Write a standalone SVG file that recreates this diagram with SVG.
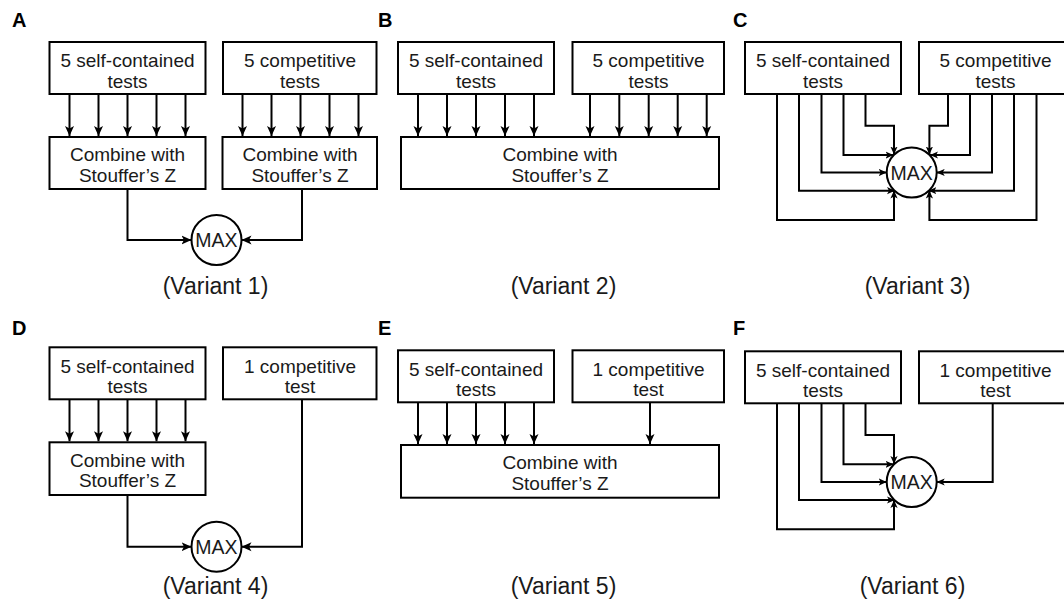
<svg xmlns="http://www.w3.org/2000/svg" width="1064" height="603" viewBox="0 0 1064 603">
<defs>
<style>
.box{fill:#fff;stroke:#000;stroke-width:2}
.circ{fill:#fff;stroke:#000;stroke-width:2}
.t{font-family:"Liberation Sans",Arial,sans-serif;font-size:19px;fill:#1a1a1a;text-anchor:middle}
.mx{font-family:"Liberation Sans",Arial,sans-serif;font-size:19.5px;fill:#1a1a1a;text-anchor:middle}
.v{font-family:"Liberation Sans",Arial,sans-serif;font-size:23px;fill:#1a1a1a;text-anchor:middle}
.lbl{font-family:"Liberation Sans",Arial,sans-serif;font-size:20px;font-weight:bold;fill:#000}
.c{fill:none;stroke:#000;stroke-width:2;marker-end:url(#ah)}
.cs{fill:none;stroke:#000;stroke-width:2;marker-end:url(#as)}
</style>
<marker id="ah" viewBox="0 0 10 10" refX="10" refY="5" markerWidth="10" markerHeight="10" markerUnits="userSpaceOnUse" orient="auto"><path d="M0,0.5 L10,5 L0,9.5 L2.5,5 Z" fill="#000"/></marker>
<marker id="as" viewBox="0 0 10 10" refX="10" refY="5" markerWidth="8" markerHeight="8" markerUnits="userSpaceOnUse" orient="auto"><path d="M0,0.5 L10,5 L0,9.5 L2.5,5 Z" fill="#000"/></marker>
</defs>
<rect width="1064" height="603" fill="#fff"/>

<g id="labels">
<text class="lbl" x="12" y="26.5">A</text>
<text class="lbl" x="378" y="26.5">B</text>
<text class="lbl" x="733" y="26.5">C</text>
<text class="lbl" x="12" y="335">D</text>
<text class="lbl" x="378" y="335">E</text>
<text class="lbl" x="733" y="335">F</text>
<text class="v" x="215.5" y="294">(Variant 1)</text>
<text class="v" x="563.5" y="294">(Variant 2)</text>
<text class="v" x="917.5" y="294">(Variant 3)</text>
<text class="v" x="215.5" y="593.5">(Variant 4)</text>
<text class="v" x="563.5" y="593.5">(Variant 5)</text>
<text class="v" x="912.5" y="593.5">(Variant 6)</text>
</g>

<g id="connectors">
<!-- A -->
<path class="c" d="M69.5,94 V136"/><path class="c" d="M98.5,94 V136"/><path class="c" d="M127.5,94 V136"/><path class="c" d="M156.5,94 V136"/><path class="c" d="M185.5,94 V136"/>
<path class="c" d="M242.5,94 V136"/><path class="c" d="M271.5,94 V136"/><path class="c" d="M300.5,94 V136"/><path class="c" d="M329.5,94 V136"/><path class="c" d="M358.5,94 V136"/>
<path class="c" d="M127.5,189 V240 H191.5"/>
<path class="c" d="M302,189 V240 H241.5"/>
<!-- B -->
<path class="c" d="M418,94 V136"/><path class="c" d="M447,94 V136"/><path class="c" d="M476,94 V136"/><path class="c" d="M505,94 V136"/><path class="c" d="M534,94 V136"/>
<path class="c" d="M590,94 V136"/><path class="c" d="M619.3,94 V136"/><path class="c" d="M648.7,94 V136"/><path class="c" d="M677.7,94 V136"/><path class="c" d="M706.7,94 V136"/>
<!-- C -->
<path class="cs" d="M865.5,94 V125.7 H894 V154.5"/>
<path class="cs" d="M843.5,94 V155 H893.5"/>
<path class="cs" d="M821.5,94 V172.5 H886.7"/>
<path class="cs" d="M799,94 V190.7 H895"/>
<path class="cs" d="M777,94 V220 H894 V190.5"/>
<path class="cs" d="M948,94 V125.7 H929.4 V154.5"/>
<path class="cs" d="M970,94 V155 H930"/>
<path class="cs" d="M992,94 V172.5 H936.7"/>
<path class="cs" d="M1014,94 V190.7 H928.4"/>
<path class="cs" d="M1036.5,94 V220 H929.4 V190.5"/>
<!-- D -->
<path class="c" d="M69.5,399.3 V441.3"/><path class="c" d="M98.5,399.3 V441.3"/><path class="c" d="M127.5,399.3 V441.3"/><path class="c" d="M156.5,399.3 V441.3"/><path class="c" d="M185.5,399.3 V441.3"/>
<path class="c" d="M127.5,495 V546.7 H191.5"/>
<path class="c" d="M302,399.3 V546.7 H241.5"/>
<!-- E -->
<path class="c" d="M418,402.3 V444"/><path class="c" d="M447,402.3 V444"/><path class="c" d="M476,402.3 V444"/><path class="c" d="M505,402.3 V444"/><path class="c" d="M534,402.3 V444"/>
<path class="c" d="M650,402.3 V444"/>
<!-- F -->
<path class="cs" d="M865.5,403.3 V435 H894 V464"/>
<path class="cs" d="M843.5,403.3 V464.3 H893.5"/>
<path class="cs" d="M821.5,403.3 V482 H886.7"/>
<path class="cs" d="M799,403.3 V500 H895"/>
<path class="cs" d="M777,403.3 V529.3 H894 V500"/>
<path class="cs" d="M992.7,403.3 V482 H936.7"/>
</g>

<g id="A-self"><rect class="box" x="49.5" y="42" width="156" height="52"/><text class="t" x="127.5" y="67">5 self-contained</text><text class="t" x="127.5" y="87.5">tests</text></g>
<g id="A-comp"><rect class="box" x="223" y="42" width="153.5" height="52"/><text class="t" x="300" y="67">5 competitive</text><text class="t" x="300" y="87.5">tests</text></g>
<g id="A-comb1"><rect class="box" x="49.5" y="137" width="156" height="52"/><text class="t" x="127.5" y="161">Combine with</text><text class="t" x="127.5" y="181.5">Stouffer’s Z</text></g>
<g id="A-comb2"><rect class="box" x="222.5" y="137" width="154.5" height="52"/><text class="t" x="300" y="161">Combine with</text><text class="t" x="300" y="181.5">Stouffer’s Z</text></g>
<g id="A-max"><circle class="circ" cx="216.5" cy="240" r="25"/><text class="mx" x="216.5" y="247">MAX</text></g>

<g id="B-self"><rect class="box" x="398" y="42" width="156" height="52"/><text class="t" x="476" y="67">5 self-contained</text><text class="t" x="476" y="87.5">tests</text></g>
<g id="B-comp"><rect class="box" x="572.5" y="42" width="151.5" height="52"/><text class="t" x="648.5" y="67">5 competitive</text><text class="t" x="648.5" y="87.5">tests</text></g>
<g id="B-comb"><rect class="box" x="401" y="137" width="318" height="52"/><text class="t" x="560" y="161">Combine with</text><text class="t" x="560" y="181.5">Stouffer’s Z</text></g>

<g id="C-self"><rect class="box" x="745" y="42" width="156" height="52"/><text class="t" x="823" y="67">5 self-contained</text><text class="t" x="823" y="87.5">tests</text></g>
<g id="C-comp"><rect class="box" x="919" y="42" width="153" height="52"/><text class="t" x="995.5" y="67">5 competitive</text><text class="t" x="995.5" y="87.5">tests</text></g>
<g id="C-max"><circle class="circ" cx="911.7" cy="172.5" r="25"/><text class="mx" x="911.7" y="179.5">MAX</text></g>

<g id="D-self"><rect class="box" x="49.5" y="347.3" width="156" height="52"/><text class="t" x="127.5" y="372.5">5 self-contained</text><text class="t" x="127.5" y="393">tests</text></g>
<g id="D-comp"><rect class="box" x="223" y="347.3" width="153.5" height="52"/><text class="t" x="300" y="372.5">1 competitive</text><text class="t" x="300" y="393">test</text></g>
<g id="D-comb"><rect class="box" x="49.5" y="442.3" width="156" height="52.7"/><text class="t" x="127.5" y="466.5">Combine with</text><text class="t" x="127.5" y="487">Stouffer’s Z</text></g>
<g id="D-max"><circle class="circ" cx="216.5" cy="546.7" r="25"/><text class="mx" x="216.5" y="553.7">MAX</text></g>

<g id="E-self"><rect class="box" x="398" y="350.3" width="156" height="52"/><text class="t" x="476" y="375.5">5 self-contained</text><text class="t" x="476" y="396">tests</text></g>
<g id="E-comp"><rect class="box" x="572.5" y="350.3" width="151.5" height="52"/><text class="t" x="648.5" y="375.5">1 competitive</text><text class="t" x="648.5" y="396">test</text></g>
<g id="E-comb"><rect class="box" x="401" y="445" width="318" height="52.7"/><text class="t" x="560" y="469">Combine with</text><text class="t" x="560" y="489.5">Stouffer’s Z</text></g>

<g id="F-self"><rect class="box" x="745" y="351.3" width="156" height="52"/><text class="t" x="823" y="376.5">5 self-contained</text><text class="t" x="823" y="397">tests</text></g>
<g id="F-comp"><rect class="box" x="919" y="351.3" width="153" height="52"/><text class="t" x="995.5" y="376.5">1 competitive</text><text class="t" x="995.5" y="397">test</text></g>
<g id="F-max"><circle class="circ" cx="911.7" cy="482" r="25"/><text class="mx" x="911.7" y="489">MAX</text></g>
</svg>
